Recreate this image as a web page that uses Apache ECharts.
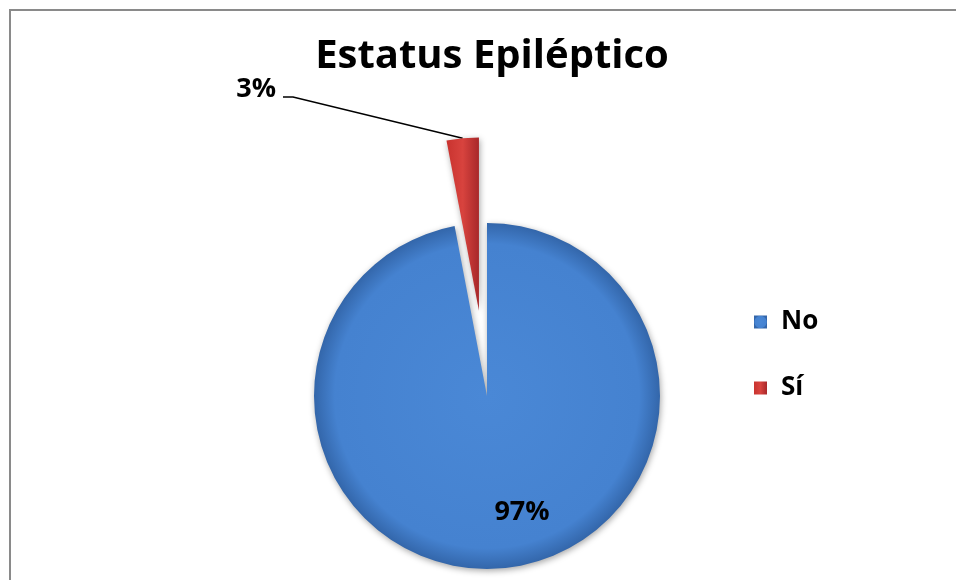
<!DOCTYPE html>
<html>
<head>
<meta charset="utf-8">
<script src="https://cdn.jsdelivr.net/npm/echarts@6/dist/echarts.min.js"></script>
<style>
  html, body { margin: 0; padding: 0; background: #fff; }
  #chart { width: 956px; height: 580px; }
</style>
</head>
<body>
<div id="chart"></div>
<script>
// Status epilepticus share
const categories = ['No', 'Sí'];
const values = [97, 3];
const chartTitle = 'Estatus Epiléptico';

const FONT = '"Open Sans", Lato, sans-serif';
const START_ANGLE = 90;
const EXPLODE = 86;

const fills = [
  new echarts.graphic.RadialGradient(0.5, 0.5, 0.5, [
    { offset: 0, color: '#4a88d6' },
    { offset: 0.88, color: '#4582d0' },
    { offset: 1, color: '#3366aa' }
  ]),
  new echarts.graphic.LinearGradient(0, 0, 1, 0, [
    { offset: 0, color: '#c9332f' },
    { offset: 0.5, color: '#d8433e' },
    { offset: 1, color: '#a8282a' }
  ])
];

// Translation applied to the exploded slice (labels of that slice live in its frame)
function explodeShift(index) {
  const total = values.reduce((a, b) => a + b, 0);
  let before = 0;
  for (let k = 0; k < index; k++) before += values[k];
  const midDeg = START_ANGLE - (before + values[index] / 2) / total * 360;
  const a = midDeg * Math.PI / 180;
  return [EXPLODE * Math.cos(a), -EXPLODE * Math.sin(a)];
}

const chart = echarts.init(document.getElementById('chart'), null, { renderer: 'canvas' });

chart.setOption({
  backgroundColor: '#ffffff',
  animation: false,
  title: {
    text: chartTitle,
    left: 487,
    top: 32,
    textAlign: 'center',
    textStyle: { fontFamily: FONT, fontWeight: 'bold', fontSize: 40, color: '#000' }
  },
  legend: {
    orient: 'vertical',
    left: 754,
    top: 307,
    padding: 0,
    itemWidth: 13,
    itemHeight: 13,
    itemGap: 36,
    icon: 'rect',
    selectedMode: false,
    textStyle: { fontFamily: FONT, fontWeight: 'bold', fontSize: 26, color: '#000', lineHeight: 30, padding: [0, 0, 0, 9] },
    data: categories
  },
  graphic: [{
    type: 'polyline',
    silent: true,
    shape: { points: [[10, 580], [10, 10], [956, 10]] },
    style: { stroke: '#8a8a8a', lineWidth: 2, fill: null }
  }],
  series: [{
    type: 'pie',
    center: [487, 396],
    radius: [0, 173],
    startAngle: START_ANGLE,
    clockwise: true,
    selectedMode: 'single',
    selectedOffset: EXPLODE,
    itemStyle: {
      shadowBlur: 6,
      shadowColor: 'rgba(0,0,0,0.35)',
      shadowOffsetX: 1,
      shadowOffsetY: 2
    },
    emphasis: { disabled: true },
    label: {
      show: true,
      formatter: '{d}%',
      fontFamily: FONT,
      fontWeight: 'bold',
      fontSize: 27,
      color: '#000'
    },
    labelLine: { show: true, lineStyle: { color: '#000', width: 1.5 }, length: 10, length2: 10 },
    labelLayout: function (params) {
      const r = params.labelRect;
      if (params.dataIndex === 0) {
        return {
          dx: 522 - (r.x + r.width / 2),
          dy: 512 - (r.y + r.height / 2)
        };
      }
      // outside label pulled up-left, with a short horizontal tail
      const s = explodeShift(params.dataIndex);
      const right = 276 - s[0], midY = 89 - s[1];
      const pts = params.labelLinePoints;
      return {
        dx: right - (r.x + r.width),
        dy: midY - (r.y + r.height / 2),
        labelLinePoints: pts ? [pts[0], [right + 17, midY + 8], [right + 7, midY + 8]] : undefined
      };
    },
    data: categories.map((name, i) => ({
      name: name,
      value: values[i],
      selected: i === 1,
      itemStyle: { color: fills[i] },
      label: { position: i === 0 ? 'inside' : 'outside' },
      labelLine: { show: i === 1 }
    }))
  }]
});
</script>
</body>
</html>
